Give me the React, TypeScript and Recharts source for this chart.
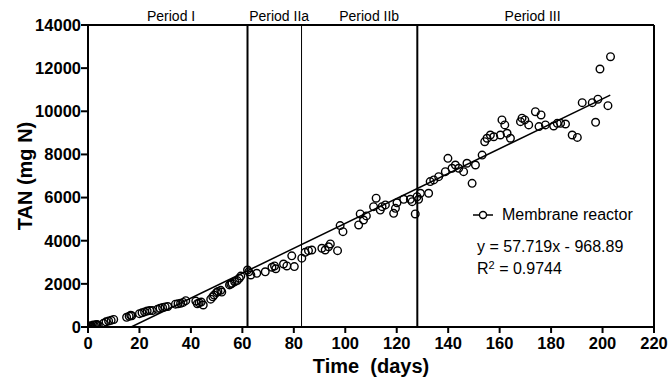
import React from 'react'
import {
  ScatterChart,
  Scatter,
  XAxis,
  YAxis,
  ReferenceLine,
  ReferenceDot,
  Legend,
} from 'recharts'

// measured TAN (mg N) against time (days)
const days = [
  0, 0.5, 1, 1.5, 2, 2.5, 3, 3.5, 4, 6, 7, 8, 9, 10, 15, 16, 16.6, 17, 20, 21, 22, 23, 24, 25,
  27, 28, 29, 30, 31, 34, 35, 36, 37, 38, 41.9, 42.5, 43.2, 44, 44.8, 47.7, 48.5, 49, 50, 50.5,
  51.6, 52, 55, 55.5, 56, 57, 58, 58.8, 59.4, 62, 62.5, 63.3,
  65.6, 68.9, 71.5, 72.5, 73, 76, 77.3, 79.2, 80.2, 83.1,
  84.4, 85.7, 87, 90.9, 92.2, 93.5, 94.2, 97, 98, 99.1, 105.2, 105.8, 107.1, 108.2, 111, 112,
  113.6, 114.3, 115.6, 118.8, 119.5, 120.1, 122.7, 125.3, 126, 127.2, 127.9,
  128.5, 129.2, 132.4, 133, 134.4, 136.3, 138.9, 139.9, 141.5, 142.8, 144.1, 146, 147.3, 149.3,
  150.6, 153.2, 154.2, 155.1, 156.4, 157.7, 160.3, 160.9, 162, 162.9, 164.2, 168.1, 168.7, 169.8,
  171.3, 173.9, 176.1, 175.3, 177.8, 181, 182.4, 183.7, 185.6, 188.2, 190.2, 192.1, 196, 197.3,
  198.2, 199, 202.1, 203.1,
]
const tan = [
  20, 40, 60, 30, 90, 70, 100, 120, 80, 170, 240, 280, 310, 350, 450, 500, 540, 520, 620, 660, 700, 740, 760, 760,
  820, 870, 900, 930, 950, 1060, 1080, 1100, 1140, 1220, 1200, 1080, 1120, 1160, 1020, 1290, 1400, 1480, 1600, 1650,
  1700, 1620, 1950, 1990, 2030, 2100, 2150, 2260, 2360, 2640, 2560, 2410,
  2490, 2560, 2770, 2830, 2700, 2920, 2830, 3300, 2800, 3190,
  3460, 3540, 3570, 3650, 3570, 3720, 3850, 3540, 4700, 4420, 4730, 5240, 4960, 5150, 5580, 5970,
  5420, 5580, 5660, 5270, 5500, 5760, 5920, 5920, 5810, 5240, 6040,
  5920, 6200, 6200, 6740, 6820, 6970, 7200, 7820, 7360, 7510, 7360, 7200, 7590, 6660,
  7510, 7970, 8590, 8750, 8900, 8820, 8900, 9600, 9370, 8980, 8750, 9520, 9680, 9600,
  9370, 9980, 9830, 9290, 9370, 9320, 9440, 9440, 9410, 8900, 8790, 10400, 10400, 9490,
  10560, 11960, 10260, 12530,
]

// linear fit shown in the figure: y = 57.719x - 968.89
const slope = 57.719
const intercept = -968.89
const fitRange = [16.79, 203]

const periodBounds = [62, 83, 128]
const periodBoundWidths = [2, 1, 2]
const periodNames = ['Period I', 'Period IIa', 'Period IIb', 'Period III']
const periodLabelDays = [32.3, 74.3, 109.3, 172.8]

const xTicks = [0, 20, 40, 60, 80, 100, 120, 140, 160, 180, 200, 220]
const yTicks = [0, 2000, 4000, 6000, 8000, 10000, 12000, 14000]

const points = days.map((d, i) => ({ day: d, tan: tan[i] }))
const fitLine = fitRange.map((d) => ({ day: d, tan: slope * d + intercept }))

const font = '"Liberation Sans", Arial, sans-serif'
const tickStyle = { fontFamily: font, fontSize: 16.5, fontWeight: 700, fill: '#000' }

const Circle = (props: any) => (
  <circle cx={props.cx} cy={props.cy} r={3.8} fill="none" stroke="#000" strokeWidth={1.4} />
)

const LegendBox = () => (
  <div style={{ fontFamily: font, fontSize: 16, color: '#000', lineHeight: '22px' }}>
    <div style={{ display: 'flex', alignItems: 'center' }}>
      <svg width={22} height={12}>
        <line x1={1} x2={21} y1={6} y2={6} stroke="#000" strokeWidth={1.5} />
        <circle cx={11} cy={6} r={3.5} fill="#fff" stroke="#000" strokeWidth={1.4} />
      </svg>
      <span style={{ marginLeft: 8 }}>Membrane reactor</span>
    </div>
    <div style={{ marginTop: 10, marginLeft: 5 }}>y = 57.719x - 968.89</div>
    <div style={{ marginLeft: 5 }}>
      R<sup style={{ fontSize: 11, verticalAlign: 'top', lineHeight: '14px' }}>2</sup> = 0.9744
    </div>
  </div>
)

export default function App() {
  return (
    <div style={{ position: 'absolute', left: 0, top: 0, background: '#fff' }}>
      <ScatterChart width={668} height={382} margin={{ top: 25, right: 14, bottom: 25, left: 28 }}>
        <XAxis
          type="number"
          dataKey="day"
          domain={[0, 220]}
          ticks={xTicks}
          allowDataOverflow
          stroke="#000"
          strokeWidth={2}
          tickSize={6}
          tickMargin={4}
          tick={tickStyle}
          height={30}
          label={{
            value: 'Time\u00a0 (days)',
            position: 'insideBottom',
            offset: -16,
            style: { fontFamily: font, fontSize: 20, fontWeight: 700, fill: '#000' },
          }}
        />
        <YAxis
          type="number"
          dataKey="tan"
          domain={[0, 14000]}
          ticks={yTicks}
          allowDataOverflow
          stroke="#000"
          strokeWidth={2}
          tickSize={7}
          tickMargin={0}
          tick={tickStyle}
          width={60}
          label={{
            value: 'TAN (mg N)',
            angle: -90,
            position: 'insideLeft',
            offset: -3,
            style: { fontFamily: font, fontSize: 20, fontWeight: 700, fill: '#000', textAnchor: 'middle' },
          }}
        />
        <ReferenceLine y={14000} stroke="#000" strokeWidth={2} />
        <ReferenceLine x={220} stroke="#000" strokeWidth={2} />
        {periodBounds.map((b, i) => (
          <ReferenceLine key={b} x={b} stroke="#000" strokeWidth={periodBoundWidths[i]} />
        ))}
        {periodNames.map((name, i) => (
          <ReferenceDot
            key={name}
            x={periodLabelDays[i]}
            y={14000}
            r={0}
            fill="none"
            stroke="none"
            label={{
              value: name,
              position: 'top',
              offset: 4,
              style: { fontFamily: font, fontSize: 14, fill: '#000' },
            }}
          />
        ))}
        <Scatter
          data={fitLine}
          line={{ stroke: '#000', strokeWidth: 1.5 }}
          shape={() => null}
          legendType="none"
          isAnimationActive={false}
        />
        <Scatter
          name="Membrane reactor"
          data={points}
          shape={Circle}
          isAnimationActive={false}
        />
        <Legend
          layout="vertical"
          align="center"
          verticalAlign="middle"
          content={LegendBox}
          wrapperStyle={{ position: 'absolute', left: 472, top: 204, width: 190 }}
        />
      </ScatterChart>
    </div>
  )
}
